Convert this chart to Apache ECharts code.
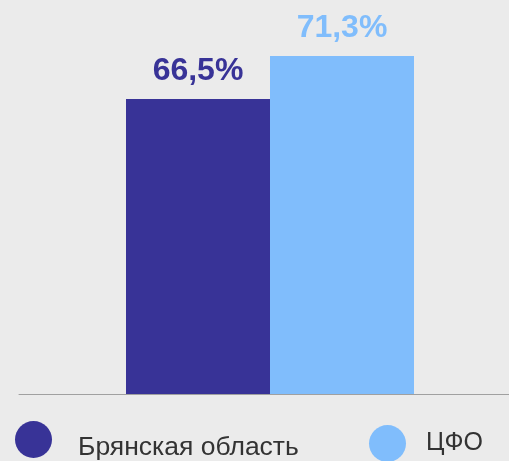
<!DOCTYPE html>
<html>
<head>
<meta charset="utf-8">
<script src="https://cdn.jsdelivr.net/npm/echarts@6/dist/echarts.min.js"></script>
<style>
  html, body { margin: 0; padding: 0; background: #ebebeb; }
  #chart { width: 509px; height: 461px; }
</style>
</head>
<body>
<div id="chart"></div>
<script>
// data
var categories = ['2023'];
var seriesNames = ['Брянская область', 'ЦФО'];
var regionValues = [66.5];
var cfoValues = [71.3];
var colors = ['#383397', '#80bdfc'];

var myChart = echarts.init(document.getElementById('chart'));

function labelFmt(p) {
  return String(p.value).replace('.', ',') + '%';
}

var option = {
  backgroundColor: '#ebebeb',
  animation: false,
  grid: { left: 19, right: -12, top: 56, bottom: 67, outerBoundsMode: 'none', containLabel: false },
  legend: [
    {
      data: [seriesNames[0]],
      left: 10, top: 413,
      icon: 'circle', itemWidth: 37, itemHeight: 37,
      formatter: function (name) { return '\n' + name; },
      textStyle: { fontSize: 26.5, lineHeight: 16, color: '#333', fontFamily: 'Liberation Sans, Arial', padding: [0, 0, 0, 21] },
      selectedMode: false
    },
    {
      data: [seriesNames[1]],
      left: 364, top: 420,
      icon: 'circle', itemWidth: 37, itemHeight: 37,
      textStyle: { fontSize: 25, color: '#333', fontFamily: 'Liberation Sans, Arial', padding: [0, 0, 0, 15] },
      selectedMode: false
    }
  ],
  xAxis: {
    type: 'category',
    data: categories,
    axisLine: { lineStyle: { color: '#a0a0a0', width: 1 } },
    axisTick: { show: false },
    axisLabel: { show: false }
  },
  yAxis: {
    type: 'value',
    min: 33.6,
    max: 71.3,
    show: false,
    splitLine: { show: false }
  },
  series: [
    {
      name: seriesNames[0],
      type: 'bar',
      data: regionValues,
      barWidth: 144,
      barGap: '0%',
      itemStyle: { color: colors[0] },
      label: {
        show: true, position: 'top', distance: 12,
        formatter: labelFmt,
        fontSize: 32, fontWeight: 'bold', color: colors[0],
        fontFamily: 'Liberation Sans, Arial'
      }
    },
    {
      name: seriesNames[1],
      type: 'bar',
      data: cfoValues,
      barWidth: 144,
      barGap: '0%',
      itemStyle: { color: colors[1] },
      label: {
        show: true, position: 'top', distance: 12,
        formatter: labelFmt,
        fontSize: 32, fontWeight: 'bold', color: colors[1],
        fontFamily: 'Liberation Sans, Arial'
      }
    }
  ]
};

myChart.setOption(option);
</script>
</body>
</html>
